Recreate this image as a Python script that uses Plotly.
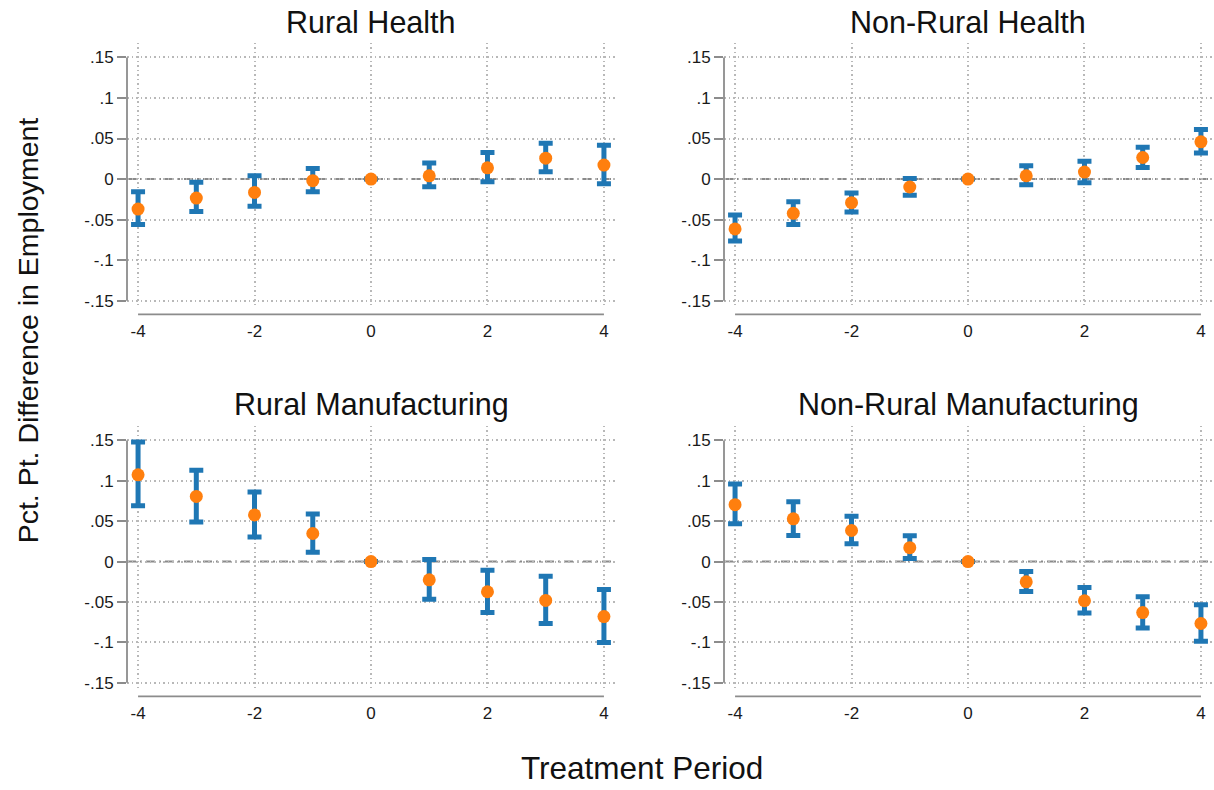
import plotly.graph_objects as go

# ---------------- data ----------------
periods = [-4, -3, -2, -1, 0, 1, 2, 3, 4]

panel_titles = ["Rural Health", "Non-Rural Health", "Rural Manufacturing", "Non-Rural Manufacturing"]

rural_health_est = [-0.037, -0.0234, -0.0164, -0.002, 0.0, 0.004, 0.0139, 0.0258, 0.0172]
rural_health_lo = [-0.056, -0.040, -0.0336, -0.0156, None, -0.0094, -0.0033, 0.009, -0.0057]
rural_health_hi = [-0.0156, -0.004, 0.004, 0.013, None, 0.0197, 0.0328, 0.0443, 0.0418]

nonrural_health_est = [-0.0615, -0.0422, -0.0291, -0.0098, 0.0, 0.0041, 0.0086, 0.0266, 0.0459]
nonrural_health_lo = [-0.0762, -0.0561, -0.0406, -0.020, None, -0.007, -0.0045, 0.0143, 0.032]
nonrural_health_hi = [-0.0443, -0.0279, -0.0172, 0.0008, None, 0.0164, 0.0221, 0.0393, 0.061]

rural_manuf_est = [0.1074, 0.0807, 0.0578, 0.0348, 0.0, -0.0225, -0.0373, -0.048, -0.068]
rural_manuf_lo = [0.069, 0.049, 0.0303, 0.0115, None, -0.0467, -0.0631, -0.0766, -0.100]
rural_manuf_hi = [0.148, 0.113, 0.086, 0.059, None, 0.0025, -0.0107, -0.018, -0.0344]

nonrural_manuf_est = [0.0705, 0.0529, 0.0385, 0.0172, 0.0, -0.025, -0.0484, -0.0631, -0.0766]
nonrural_manuf_lo = [0.0467, 0.0324, 0.0221, 0.0037, None, -0.0369, -0.0635, -0.082, -0.0984]
nonrural_manuf_hi = [0.0959, 0.0742, 0.0561, 0.032, None, -0.0123, -0.032, -0.0434, -0.0533]

y_tickvals = [-0.15, -0.1, -0.05, 0, 0.05, 0.1, 0.15]
y_ticktext = ["-.15", "-.1", "-.05", "0", ".05", ".1", ".15"]
x_tickvals = [-4, -2, 0, 2, 4]
x_ticktext = ["-4", "-2", "0", "2", "4"]

y_title = "Pct. Pt. Difference in Employment"
x_title = "Treatment Period"

# ---------------- style ----------------
W, H = 1214, 790
FONT = "Liberation Sans, Arial, sans-serif"
BLUE = "#1f77b4"
ORANGE = "#ff7f0e"
AXIS_GRAY = "#8c8c8c"
GRID_GRAY = "#b8b8b8"
X_RANGE = [-4.19, 4.19]
Y_RANGE = [-0.157, 0.168]

# panel plot areas in pixels: (left, right, top, bottom)
boxes = [
    (127, 615, 43, 308),
    (724, 1212, 43, 308),
    (127, 615, 428, 692),
    (724, 1212, 428, 692),
]

series = [
    (rural_health_est, rural_health_lo, rural_health_hi),
    (nonrural_health_est, nonrural_health_lo, nonrural_health_hi),
    (rural_manuf_est, rural_manuf_lo, rural_manuf_hi),
    (nonrural_manuf_est, nonrural_manuf_lo, nonrural_manuf_hi),
]

fig = go.Figure()
layout = dict(
    width=W, height=H,
    margin=dict(l=0, r=0, t=0, b=0),
    paper_bgcolor="white", plot_bgcolor="white",
    showlegend=False,
    font=dict(family=FONT, color="#1a1a1a"),
)
shapes = []
annotations = []

for i, ((est, lo, hi), (l, r, t, b), title) in enumerate(zip(series, boxes, panel_titles)):
    n = i + 1
    xa = "x" if n == 1 else f"x{n}"
    ya = "y" if n == 1 else f"y{n}"
    up = [None if h is None else h - e for e, h in zip(est, hi)]
    dn = [None if v is None else e - v for e, v in zip(est, lo)]
    fig.add_trace(go.Scatter(
        x=periods, y=est, mode="markers", xaxis=xa, yaxis=ya,
        marker=dict(color=ORANGE, size=13, line=dict(width=0)),
        error_y=dict(type="data", symmetric=False, array=up, arrayminus=dn,
                     color=BLUE, thickness=5, width=7),
        cliponaxis=False,
    ))
    layout[f"xaxis{'' if n == 1 else n}"] = dict(
        domain=[l / W, r / W], anchor=ya, range=X_RANGE,
        tickvals=x_tickvals, ticktext=x_ticktext, ticks="",
        ticklabelstandoff=13,
        showgrid=True, gridcolor=GRID_GRAY, griddash="1.5px,3px", gridwidth=1.5,
        zeroline=False, showline=False,
        tickfont=dict(size=17, family=FONT, color="#1a1a1a"),
    )
    layout[f"yaxis{'' if n == 1 else n}"] = dict(
        domain=[1 - b / H, 1 - t / H], anchor=xa, range=Y_RANGE,
        tickvals=y_tickvals, ticktext=y_ticktext, ticks="outside",
        ticklen=9, tickwidth=1.6, tickcolor=AXIS_GRAY,
        showgrid=True, gridcolor=GRID_GRAY, griddash="1.5px,3px", gridwidth=1.5,
        zeroline=False, showline=False,
        tickfont=dict(size=17, family=FONT, color="#1a1a1a"),
    )
    # dash-dot zero reference line
    shapes.append(dict(type="line", xref=f"{xa} domain", x0=0, x1=1, yref=ya, y0=0, y1=0,
                       line=dict(color="#8a8a8a", width=2, dash="9px,4px,2px,4px"), layer="below"))
    # y axis line spanning the labelled range
    shapes.append(dict(type="line", xref=f"{xa} domain", x0=0, x1=0, yref=ya,
                       y0=y_tickvals[0], y1=y_tickvals[-1],
                       line=dict(color=AXIS_GRAY, width=1.8), layer="above"))
    # x axis line, offset below plot area
    off = -8 / (b - t)
    shapes.append(dict(type="line", xref=xa, x0=x_tickvals[0], x1=x_tickvals[-1],
                       yref=f"{ya} domain", y0=off, y1=off,
                       line=dict(color=AXIS_GRAY, width=1.8), layer="above"))
    annotations.append(dict(text=title, xref="paper", yref="paper",
                            x=(l + r) / 2 / W, y=1 - (t - 21) / H,
                            xanchor="center", yanchor="middle", showarrow=False,
                            font=dict(size=30.5, family=FONT, color="#111")))

annotations.append(dict(text=y_title, xref="paper", yref="paper", x=28 / W, y=1 - 332 / H,
                        xanchor="center", yanchor="middle", textangle=-90, showarrow=False,
                        font=dict(size=28.5, family=FONT, color="#111")))
annotations.append(dict(text=x_title, xref="paper", yref="paper", x=642 / W, y=1 - 772 / H,
                        xanchor="center", yanchor="middle", showarrow=False,
                        font=dict(size=31.5, family=FONT, color="#111")))

layout["shapes"] = shapes
layout["annotations"] = annotations
fig.update_layout(**layout)
fig.write_html(
    "out.html",
    config={"displayModeBar": False},
    post_script="document.body.style.margin='0';document.body.style.overflow='hidden';",
)
